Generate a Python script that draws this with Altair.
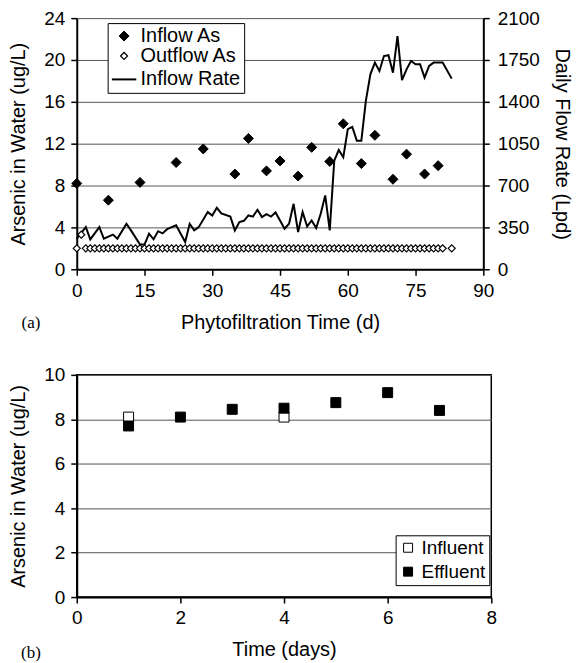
import altair as alt
import pandas as pd

# ---------------- Panel (a) data ----------------
inflow_days = [0, 7, 14, 22, 28, 35, 38, 42, 45, 49, 52, 56, 59, 63, 66, 70, 73, 77, 80]
inflow_as = [8.2, 6.6, 8.3, 10.2, 11.5, 9.1, 12.5, 9.4, 10.35, 8.9, 11.65, 10.3, 13.9,
             10.1, 12.8, 8.6, 11.0, 9.1, 9.9]

outflow_days = [0, 1, 2, 3, 4, 5, 6, 7, 8, 9, 10, 11, 12, 13, 14, 15, 16, 17, 18, 19, 20,
                21, 22, 23, 24, 25, 26, 27, 28, 29, 30, 31, 32, 33, 34, 35, 36, 37, 38, 39,
                40, 41, 42, 43, 44, 45, 46, 47, 48, 49, 50, 51, 52, 53, 54, 55, 56, 57, 58,
                59, 60, 61, 62, 63, 64, 65, 66, 67, 68, 69, 70, 71, 72, 73, 74, 75, 76, 77,
                78, 79, 80, 81, 83]
outflow_as = [2.0, 3.3, 2.0, 2.0, 2.0, 2.0, 2.0, 2.0, 2.0, 2.0, 2.0, 2.0, 2.0, 2.0, 2.0,
              2.0, 2.0, 2.0, 2.0, 2.0, 2.0, 2.0, 2.0, 2.0, 2.0, 2.0, 2.0, 2.0, 2.0, 2.0,
              2.0, 2.0, 2.0, 2.0, 2.0, 2.0, 2.0, 2.0, 2.0, 2.0, 2.0, 2.0, 2.0, 2.0, 2.0,
              2.0, 2.0, 2.0, 2.0, 2.0, 2.0, 2.0, 2.0, 2.0, 2.0, 2.0, 2.0, 2.0, 2.0, 2.0,
              2.0, 2.0, 2.0, 2.0, 2.0, 2.0, 2.0, 2.0, 2.0, 2.0, 2.0, 2.0, 2.0, 2.0, 2.0,
              2.0, 2.0, 2.0, 2.0, 2.0, 2.0, 2.0, 2.0]

rate_days = [0, 2, 3, 5, 6, 8, 9, 11, 12, 14, 15, 16, 17, 18, 19, 20, 22, 24, 25, 26,
             27, 29, 30, 31, 32, 34, 35, 36, 37, 38, 39, 40, 41, 42, 43, 44, 45, 46, 47, 48,
             49, 50, 51, 52, 53, 54, 55, 56, 57, 58, 59, 60, 61, 62, 63, 64, 65, 66, 67, 68,
             69, 70, 71, 72, 73, 74, 75, 76, 77, 78, 79, 81, 83]
rate_lpd = [255, 352, 250, 352, 255, 290, 256, 380, 325, 206, 206, 297, 250, 318, 300, 335,
            367, 228, 380, 325, 352, 478, 450, 514, 467, 440, 325, 395, 405, 450, 440, 497,
            436, 460, 440, 475, 408, 339, 380, 547, 311, 478, 358, 408, 344, 464, 617, 325,
            908, 997, 936, 1172, 1190, 1075, 1075, 1408, 1630, 1728, 1658, 1783, 1790, 1644,
            1950, 1581, 1672, 1742, 1714, 1714, 1603, 1700, 1728, 1728, 1594]

series_a = ["Inflow As", "Outflow As", "Inflow Rate"]
x_ticks_a = [0, 15, 30, 45, 60, 75, 90]
y_ticks_a = [0, 4, 8, 12, 16, 20, 24]
y2_ticks_a = [0, 350, 700, 1050, 1400, 1750, 2100]

# ---------------- Panel (b) data ----------------
influent_days = [1, 4]
influent_as = [8.1, 8.1]
effluent_days = [1, 2, 3, 4, 5, 6, 7]
effluent_as = [7.7, 8.1, 8.45, 8.5, 8.75, 9.2, 8.4]
series_b = ["Influent", "Effluent"]
x_ticks_b = [0, 2, 4, 6, 8]
y_ticks_b = [0, 2, 4, 6, 8, 10]

FONT = "Liberation Sans"

# ---------------- Panel (a) ----------------
as_df = pd.DataFrame({
    "day": inflow_days + outflow_days,
    "arsenic": inflow_as + outflow_as,
    "series": ["Inflow As"] * len(inflow_days) + ["Outflow As"] * len(outflow_days),
})
rate_df = pd.DataFrame({"day": rate_days, "rate": rate_lpd})

x_a = alt.X("day:Q", scale=alt.Scale(domain=[0, 90], nice=False),
            axis=alt.Axis(values=x_ticks_a, title="Phytofiltration Time (d)", grid=False,
                          labelFlush=False, titlePadding=12))

legend_a = alt.Legend(title=None, orient="none", legendX=31, legendY=5,
                      strokeColor="black", fillColor="white", padding=3,
                      rowPadding=0, labelOffset=3, symbolStrokeColor="black",
                      labelFontSize=20)

line = alt.Chart(rate_df).mark_line(color="black", strokeWidth=2).encode(
    x=x_a,
    y=alt.Y("rate:Q", scale=alt.Scale(domain=[0, 2100], nice=False),
            axis=alt.Axis(orient="right", values=y2_ticks_a, title="Daily Flow Rate (Lpd)",
                          grid=False, titlePadding=12, format="d", labelPadding=8)),
)

points = alt.Chart(as_df).mark_point(filled=True, opacity=1).encode(
    x=x_a,
    y=alt.Y("arsenic:Q", scale=alt.Scale(domain=[0, 24], nice=False),
            axis=alt.Axis(orient="left", values=y_ticks_a, title="Arsenic in Water (ug/L)",
                          grid=True, titlePadding=15)),
    shape=alt.Shape("series:N", scale=alt.Scale(domain=series_a, range=["diamond", "diamond", "stroke"]),
                    legend=legend_a),
    fill=alt.Fill("series:N", scale=alt.Scale(domain=series_a, range=["black", "white", "transparent"]),
                  legend=legend_a),
    stroke=alt.Stroke("series:N", scale=alt.Scale(domain=series_a, range=["black", "black", "black"]),
                      legend=legend_a),
    strokeWidth=alt.StrokeWidth("series:N",
                                scale=alt.Scale(type="ordinal", domain=series_a, range=[1, 1.2, 2]),
                                legend=legend_a),
    size=alt.Size("series:N", scale=alt.Scale(type="ordinal", domain=series_a, range=[100, 50, 600]),
                  legend=legend_a),
)

label_a = alt.Chart(pd.DataFrame({"t": ["(a)"]})).mark_text(
    font="Liberation Serif", fontSize=17, align="center", baseline="middle", color="black"
).encode(text="t:N", x=alt.value(-46), y=alt.value(306))

top = alt.layer(line, points, label_a).resolve_scale(y="independent").properties(
    width=408, height=252, view=alt.ViewBackground(stroke="transparent"))

# ---------------- Panel (b) ----------------
b_df = pd.DataFrame({
    "day": influent_days + effluent_days,
    "arsenic": influent_as + effluent_as,
    "series": ["Influent"] * len(influent_days) + ["Effluent"] * len(effluent_days),
})

pts_b = alt.Chart(b_df).mark_point(shape="square", filled=True, stroke="black", strokeWidth=1,
                                   opacity=1, size=100).encode(
    x=alt.X("day:Q", scale=alt.Scale(domain=[0, 8], nice=False),
            axis=alt.Axis(values=x_ticks_b, title="Time (days)", grid=False, labelFlush=False,
                          titlePadding=12)),
    y=alt.Y("arsenic:Q", scale=alt.Scale(domain=[0, 10], nice=False),
            axis=alt.Axis(values=y_ticks_b, title="Arsenic in Water (ug/L)", grid=True,
                          titlePadding=15)),
    fill=alt.Fill("series:N", scale=alt.Scale(domain=series_b, range=["white", "black"]),
                  legend=alt.Legend(title=None, orient="none", legendX=320, legendY=161,
                                    strokeColor="black", fillColor="white", padding=3,
                                    rowPadding=4, labelOffset=4, symbolType="square",
                                    symbolSize=81, symbolStrokeColor="black",
                                    symbolStrokeWidth=1, labelFontSize=19)),
)

label_b = alt.Chart(pd.DataFrame({"t": ["(b)"]})).mark_text(
    font="Liberation Serif", fontSize=17, align="center", baseline="middle", color="black"
).encode(text="t:N", x=alt.value(-46), y=alt.value(279))

bottom = alt.layer(pts_b, label_b).properties(
    width=416, height=223, view=alt.ViewBackground(stroke="black", strokeWidth=1.5))

chart = alt.vconcat(top, bottom, spacing=33).resolve_scale(
    fill="independent", shape="independent", size="independent", stroke="independent",
    strokeWidth="independent", x="independent", y="independent"
).resolve_legend(
    fill="independent", shape="independent", size="independent", stroke="independent",
    strokeWidth="independent"
).properties(
    padding={"left": 0, "top": 0, "right": 0, "bottom": 0}
).configure_axis(
    labelFont=FONT, titleFont=FONT, labelFontSize=19, titleFontSize=20,
    titleFontWeight="normal", labelColor="black", titleColor="black",
    domainColor="black", domainWidth=2, tickColor="black", tickWidth=1.5, tickSize=6,
    gridColor="#555555", gridWidth=1, labelPadding=6, labelOverlap=False,
).configure_legend(
    labelFont=FONT, labelColor="black", strokeWidth=1,
).configure_view(strokeWidth=0)

chart.save("out.html", embed_options={"renderer": "svg", "actions": False})
